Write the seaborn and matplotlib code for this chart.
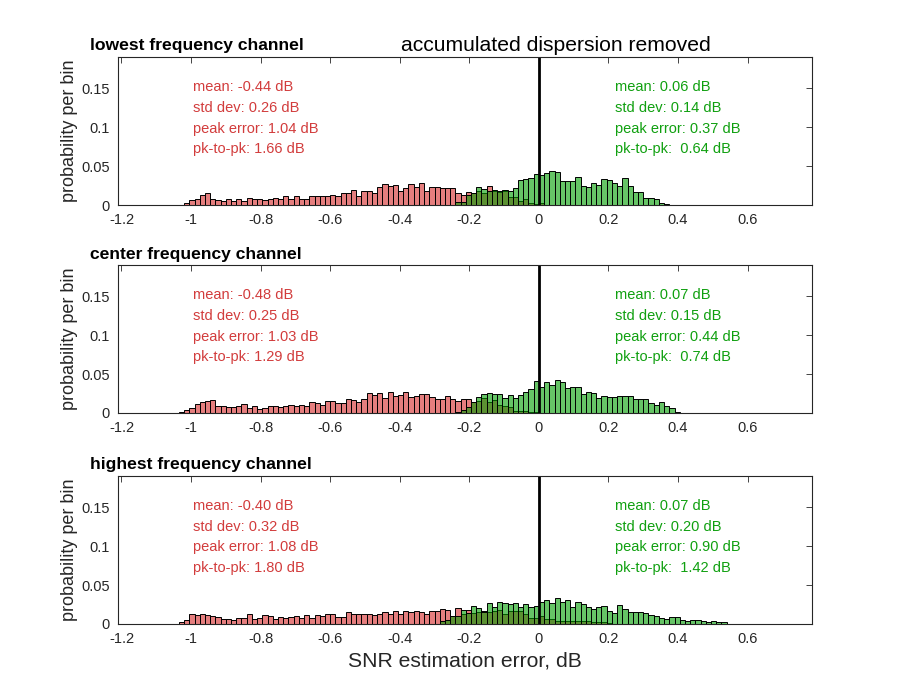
"""SNR estimation error histograms per channel, accumulated dispersion removed."""

import numpy as np
import pandas as pd
import matplotlib
matplotlib.use("Agg")
import matplotlib.pyplot as plt
import seaborn as sns

bin_width = 0.015

channel_titles = ["lowest frequency channel", "center frequency channel", "highest frequency channel"]

# red histogram (before correction), probability per bin, first bin index in units of bin_width
red_start = [-68, -69, -69]
red_low = [0.0026, 0.0064, 0.0077, 0.0128, 0.0154, 0.0077, 0.0064, 0.0051, 0.0077, 0.0051,
           0.0077, 0.0051, 0.009, 0.0077, 0.0077, 0.0064, 0.0077, 0.009, 0.0077, 0.0115,
           0.0077, 0.0115, 0.0077, 0.0077, 0.0115, 0.0115, 0.0115, 0.0115, 0.0128, 0.0115,
           0.0154, 0.0154, 0.0192, 0.0115, 0.018, 0.018, 0.0154, 0.023, 0.027, 0.024,
           0.0256, 0.018, 0.0218, 0.027, 0.023, 0.028, 0.018, 0.023,
           0.023, 0.0218, 0.0218, 0.0218, 0.0154, 0.0128, 0.0167, 0.0154, 0.018, 0.0154,
           0.024, 0.018, 0.0167, 0.018, 0.010, 0.010, 0.005, 0.0077, 0.002, 0.001, 0.002]
red_center = [0.0013, 0.0039, 0.0065, 0.0116, 0.0142, 0.0155, 0.0168, 0.009, 0.009, 0.0077,
              0.0077, 0.009, 0.0116, 0.0065, 0.009, 0.0052, 0.0065, 0.009, 0.009, 0.0077,
              0.009, 0.0103, 0.009, 0.0103, 0.009, 0.0142, 0.0129, 0.0103, 0.0155, 0.0155,
              0.0129, 0.0129, 0.018, 0.0168, 0.0142, 0.018, 0.0258, 0.0232, 0.0258, 0.0194,
              0.027, 0.022, 0.0232, 0.027, 0.0206, 0.022, 0.0245, 0.0245, 0.0206,
              0.018, 0.018, 0.022, 0.018, 0.0155, 0.018, 0.018, 0.0142, 0.0155, 0.019,
              0.0142, 0.0168, 0.0103, 0.009, 0.0077, 0.0026, 0.0026, 0.0026, 0.001, 0.001]
red_high = [0.0026, 0.0052, 0.0129, 0.0116, 0.0129, 0.0116, 0.0103, 0.009, 0.0065, 0.0065,
            0.0052, 0.0077, 0.0077, 0.0129, 0.0065, 0.0077, 0.0116, 0.0103, 0.0065, 0.009,
            0.0077, 0.009, 0.0103, 0.0077, 0.0116, 0.0077, 0.0116, 0.0103, 0.0129, 0.0129,
            0.009, 0.009, 0.0155, 0.0129, 0.0129, 0.0129, 0.0129, 0.0116, 0.0129, 0.0155,
            0.0129, 0.0168, 0.0129, 0.0168, 0.0155, 0.0168, 0.0155, 0.0129, 0.0168,
            0.0168, 0.019, 0.018, 0.0103, 0.0206, 0.0129, 0.018, 0.0142, 0.0155, 0.0168,
            0.0155, 0.0168, 0.018, 0.0129, 0.0168, 0.0168, 0.0168, 0.0129, 0.0077, 0.0077,
            0.0103, 0.0065, 0.0065, 0.004, 0.004, 0.004, 0.004, 0.004, 0.004, 0.004,
            0.0026, 0.0026, 0.0026, 0.0013]

# green histogram (dispersion removed)
green_start = [-16, -16, -19]
green_low = [0.0038, 0.0038, 0.0128, 0.015, 0.023, 0.0205, 0.018, 0.019, 0.018, 0.019,
             0.018, 0.0218, 0.032, 0.034, 0.035, 0.040, 0.0385, 0.041, 0.0436, 0.042,
             0.031, 0.031, 0.031, 0.036, 0.024, 0.023, 0.028, 0.0256, 0.033, 0.032,
             0.028, 0.024, 0.0346, 0.025, 0.0167, 0.0167, 0.009, 0.009, 0.0077, 0.0026, 0.001]
green_center = [0.0013, 0.004, 0.0077, 0.0142, 0.0206, 0.0245, 0.026, 0.0245, 0.0245, 0.019,
                0.0232, 0.019, 0.0232, 0.027, 0.031, 0.041, 0.0335, 0.040, 0.036, 0.0426,
                0.040, 0.032, 0.0335, 0.0335, 0.0245, 0.027, 0.026, 0.019, 0.022, 0.0206,
                0.0206, 0.022, 0.022, 0.022, 0.018, 0.018, 0.018, 0.0129, 0.0103, 0.0142,
                0.009, 0.0065, 0.0013]
green_high = [0.004, 0.0052, 0.0103, 0.0103, 0.018, 0.0142, 0.0232, 0.0206, 0.0155, 0.027,
              0.022, 0.0284, 0.027, 0.026, 0.027, 0.022, 0.026, 0.022, 0.0232, 0.0284,
              0.031, 0.027, 0.0335, 0.0284, 0.031, 0.022, 0.0284, 0.026, 0.022, 0.019,
              0.022, 0.0232, 0.0168, 0.0142, 0.0245, 0.019, 0.0155, 0.0155, 0.0155, 0.0142,
              0.0116, 0.0103, 0.0077, 0.0065, 0.009, 0.009, 0.0052, 0.004, 0.0052, 0.0052,
              0.004, 0.0026, 0.004, 0.0026, 0.0026, 0.0005, 0.0005, 0.0005, 0.0005, 0.0,
              0.0005, 0.0005, 0.0005, 0.0005]

red_stats = [["mean: -0.44 dB", "std dev: 0.26 dB", "peak error: 1.04 dB", "pk-to-pk: 1.66 dB"],
             ["mean: -0.48 dB", "std dev: 0.25 dB", "peak error: 1.03 dB", "pk-to-pk: 1.29 dB"],
             ["mean: -0.40 dB", "std dev: 0.32 dB", "peak error: 1.08 dB", "pk-to-pk: 1.80 dB"]]
green_stats = [["mean: 0.06 dB", "std dev: 0.14 dB", "peak error: 0.37 dB", "pk-to-pk:  0.64 dB"],
               ["mean: 0.07 dB", "std dev: 0.15 dB", "peak error: 0.44 dB", "pk-to-pk:  0.74 dB"],
               ["mean: 0.07 dB", "std dev: 0.20 dB", "peak error: 0.90 dB", "pk-to-pk:  1.42 dB"]]

x_ticks = [-1.2, -1.0, -0.8, -0.6, -0.4, -0.2, 0.0, 0.2, 0.4, 0.6]
x_tick_labels = ["-1.2", "-1", "-0.8", "-0.6", "-0.4", "-0.2", "0", "0.2", "0.4", "0.6"]
y_ticks = [0, 0.05, 0.1, 0.15]
y_tick_labels = ["0", "0.05", "0.1", "0.15"]

RED_FACE = (0.83, 0.16, 0.16)
GREEN_FACE = (0.0, 0.62, 0.0)
RED_TEXT = "#D23C3C"
GREEN_TEXT = "#10A010"
AX_COLOR = "#262626"


def hist_frame(start, values):
    k = np.arange(start, start + len(values))
    df = pd.DataFrame({"err": (k + 0.5) * bin_width, "prob": values})
    edges = (np.arange(start, start + len(values) + 1) * bin_width).tolist()
    return df, edges


sns.set_theme(style="white")
plt.rcParams["font.family"] = ["Liberation Sans", "DejaVu Sans"]

fig = plt.figure(figsize=(9, 7), dpi=100)
bottoms = [0.7071, 0.41, 0.1086]
title_y = [0.9357, 0.637, 0.337]
reds = [red_low, red_center, red_high]
greens = [green_low, green_center, green_high]
axes = []
for i in range(3):
    ax = fig.add_axes([0.1311, bottoms[i], 0.771, 0.2114])
    axes.append(ax)

    rdf, redges = hist_frame(red_start[i], reds[i])
    sns.histplot(data=rdf, x="err", weights="prob", bins=redges, color=RED_FACE,
                 alpha=0.6, edgecolor="black", linewidth=0.7, ax=ax)
    gdf, gedges = hist_frame(green_start[i], greens[i])
    sns.histplot(data=gdf, x="err", weights="prob", bins=gedges, color=GREEN_FACE,
                 alpha=0.6, edgecolor="black", linewidth=0.7, ax=ax)

    ax.axvline(0, color="black", linewidth=2)

    ax.set_xlim(-1.21, 0.785)
    ax.set_ylim(0, 0.19)
    ax.set_xticks(x_ticks)
    ax.set_xticklabels(x_tick_labels)
    ax.set_yticks(y_ticks)
    ax.set_yticklabels(y_tick_labels)
    ax.tick_params(direction="in", length=4, width=0.6, colors=AX_COLOR, labelsize=10.5,
                   top=True, right=True, pad=6)
    for sp in ax.spines.values():
        sp.set_visible(True)
        sp.set_color(AX_COLOR)
        sp.set_linewidth(0.8)
    ax.set_ylabel("probability per bin", fontsize=13, color=AX_COLOR, labelpad=2)
    ax.set_xlabel("")

    for j, line in enumerate(red_stats[i]):
        ax.text(-0.995, 0.1516 - j * 0.0267, line, color=RED_TEXT, fontsize=10.5, va="center")
    for j, line in enumerate(green_stats[i]):
        ax.text(0.218, 0.1516 - j * 0.0267, line, color=GREEN_TEXT, fontsize=10.5, va="center")

    fig.text(0.1, title_y[i], channel_titles[i], fontsize=12.6, fontweight="bold",
             va="center", ha="left", color="black")

fig.text(0.618, 0.9357, "accumulated dispersion removed", fontsize=15.2, ha="center",
         va="center", color="black")
axes[-1].set_xlabel("SNR estimation error, dB", fontsize=15.2, color=AX_COLOR, labelpad=4)

fig.savefig("out.png", dpi=100)
